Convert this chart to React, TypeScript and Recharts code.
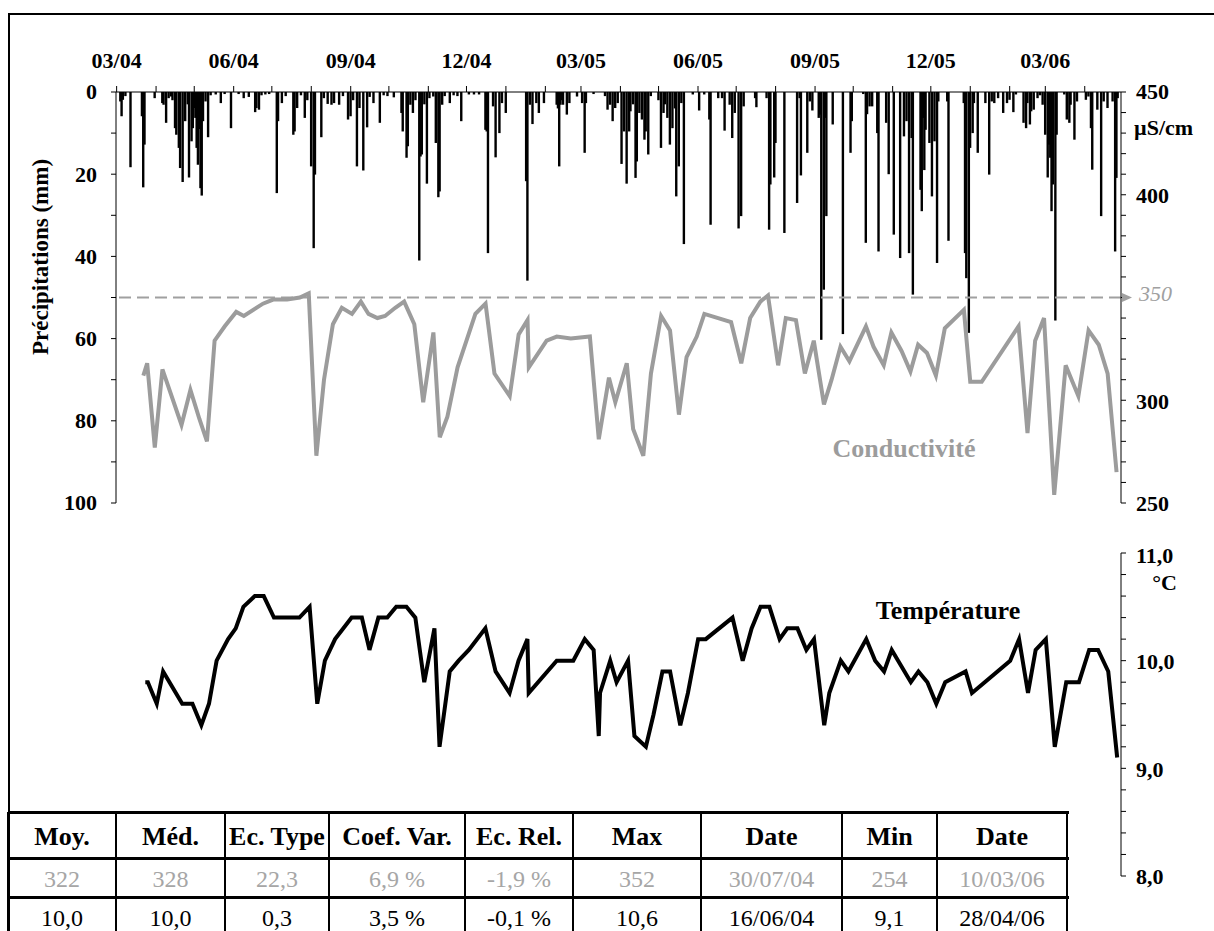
import React from 'react';
import { ComposedChart, Bar, Line, XAxis, YAxis, ReferenceLine } from 'recharts';

// day 0 = 01/03/2004
const NUM_DAYS = 790;

const monthStartDays = [0, 31, 61, 92, 122, 153, 184, 214, 245, 275, 306, 337, 365, 396, 426, 457, 487, 518, 549, 579, 610, 640, 671, 702, 730, 761];
const labelDays = [0, 92, 184, 275, 365, 457, 549, 640, 730];
const labelTexts = ['03/04', '06/04', '09/04', '12/04', '03/05', '06/05', '09/05', '12/05', '03/06'];

const precipTicks = [0, 10, 20, 30, 40, 50, 60, 70, 80, 90, 100];
const condTicks = [250, 260, 270, 280, 290, 300, 310, 320, 330, 340, 350, 360, 370, 380, 390, 400, 410, 420, 430, 440, 450];
const tempTicks = [8, 8.2, 8.4, 8.6, 8.8, 9, 9.2, 9.4, 9.6, 9.8, 10, 10.2, 10.4, 10.6, 10.8, 11];

// [day, mm]
const precipitation: [number, number][] = [
  [3, 2.3], [4, 5.9], [5, 1.9], [7, 1.0], [11, 18.3], [20, 5.9], [21, 23.2], [22, 12.8], [30, 1.5], [36, 2.7], [37, 3.1], [39, 7.5], [41, 1.5], [43, 1.1], [44, 2.0], [46, 8.8], [47, 10.4], [49, 13.6], [50, 18.5], [52, 21.9], [54, 7.1], [56, 3.0], [57, 20.8], [59, 12.0], [60, 8.8], [61, 3.9], [62, 6.3], [63, 13.6], [64, 17.7], [65, 9.0], [66, 23.4], [67, 25.2], [68, 7.1], [70, 2.3], [72, 11.0], [74, 0.8], [78, 0.6], [82, 2.7], [85, 0.5], [90, 8.8], [96, 0.5], [100, 1.5], [104, 1.2], [109, 4.9], [110, 3.9], [112, 4.3], [114, 0.8], [117, 0.6], [120, 0.5], [126, 24.6], [127, 7.1], [130, 2.7], [133, 1.0], [139, 10.4], [140, 9.6], [142, 3.9], [145, 0.8], [148, 6.3], [150, 2.0], [153, 18.1], [155, 38.0],
  [156, 20.1], [161, 11.0], [163, 1.5], [166, 2.9], [169, 3.1], [171, 2.7], [175, 3.1], [178, 1.0], [182, 6.7], [184, 5.9], [186, 2.0], [189, 18.1], [191, 3.9], [194, 19.1], [197, 8.6], [199, 1.2], [202, 2.7], [207, 7.5], [210, 0.8], [213, 1.0], [218, 1.3], [224, 5.1], [225, 9.6], [228, 16.0], [229, 13.2], [231, 3.1], [233, 5.1], [235, 2.0], [238, 41.0], [239, 15.7], [240, 15.2], [242, 3.0], [244, 22.3], [246, 1.5], [249, 1.1], [251, 12.4], [253, 25.6], [254, 24.2], [256, 3.1], [258, 1.0], [262, 2.7], [265, 0.8], [268, 1.0], [271, 7.1], [277, 0.6], [281, 0.6], [285, 0.6], [290, 9.2], [291, 9.6], [292, 39.2], [296, 3.5], [298, 15.9], [301, 10.0], [303, 2.7], [306, 5.1],
  [322, 21.7], [323, 45.9], [325, 3.1], [327, 7.8], [330, 2.7], [332, 5.1], [336, 2.7], [346, 3.1], [347, 4.0], [348, 18.1], [349, 3.1], [350, 2.0], [351, 3.1], [354, 5.5], [356, 2.7], [362, 1.1], [366, 2.7], [368, 14.8], [369, 2.7], [375, 0.5], [384, 1.0], [386, 4.3], [388, 3.1], [390, 7.1], [392, 3.9], [394, 2.7], [397, 17.5], [399, 9.6], [401, 22.3], [403, 9.6], [404, 4.7], [406, 3.0], [408, 20.9], [409, 16.9], [411, 5.1], [413, 6.7], [415, 11.6], [416, 9.6], [418, 15.2], [420, 1.0], [426, 2.0], [428, 13.6], [430, 5.1], [431, 3.0], [433, 6.3], [435, 12.8], [437, 8.8], [439, 4.0], [440, 25.4], [442, 18.1], [444, 2.7], [446, 37.0], [453, 0.6], [458, 4.5], [462, 0.6], [466, 6.7], [467, 32.3], [473, 1.5],
  [476, 1.5], [478, 9.4], [482, 3.1], [484, 11.2], [486, 5.1], [489, 33.2], [491, 30.2], [493, 3.5], [502, 1.5], [503, 3.7], [511, 1.5], [513, 33.5], [514, 22.5], [517, 20.8], [518, 12.4], [525, 34.3], [535, 27.0], [537, 1.5], [538, 20.3], [543, 14.8], [545, 2.3], [547, 4.5], [552, 6.3], [553, 5.5], [554, 60.3], [556, 48.1], [557, 6.3], [558, 30.2], [563, 7.9], [571, 58.9], [577, 14.8], [578, 7.1], [587, 0.5], [589, 36.7], [590, 5.4], [592, 3.5], [594, 3.5], [598, 10.0], [599, 38.8], [605, 7.5], [607, 20.0], [611, 34.7], [616, 40.4], [619, 10.8], [621, 7.1], [623, 39.2], [625, 11.2], [626, 49.3], [632, 23.8], [633, 29.0], [634, 6.3],
  [635, 19.0], [636, 9.2], [639, 12.4], [641, 25.4], [643, 12.0], [645, 41.6], [646, 2.3], [653, 2.3], [654, 36.2], [666, 2.7], [667, 39.2], [668, 45.3], [670, 58.6], [671, 13.6], [673, 10.0], [674, 2.7], [677, 14.8], [683, 2.7], [686, 20.1], [688, 2.3], [690, 2.7], [693, 1.5], [697, 5.1], [700, 2.7], [702, 1.9], [705, 4.9], [707, 0.6], [713, 7.5], [715, 8.8], [716, 2.7], [718, 7.9], [719, 4.7], [721, 4.3], [724, 1.5], [726, 0.8], [728, 3.1], [730, 10.4], [732, 20.8], [733, 12.8], [734, 16.0], [735, 29.0], [736, 22.5], [738, 55.6], [739, 10.4], [745, 0.6], [747, 6.7], [749, 7.5], [750, 3.1], [753, 11.6], [755, 2.3], [762, 1.9], [764, 1.1], [766, 8.8], [767, 18.9], [771, 4.3], [774, 30.2], [776, 2.3], [779, 3.9], [783, 2.3], [785, 38.8], [786, 20.9], [787, 1.5],
];

// [day, µS/cm]
const conductivity: [number, number][] = [
  [21, 312], [24, 318], [30, 277], [36, 315], [51, 288], [58, 305], [65, 291], [71, 280], [77, 329], [85, 336], [94, 343], [100, 341], [115, 347], [123, 349], [134, 349], [144, 350], [151, 352], [157, 273], [163, 310], [170, 337], [177, 345], [185, 342], [192, 348], [198, 342], [205, 340], [211, 341], [219, 345], [226, 348], [234, 337], [241, 299], [249, 333], [254, 282], [260, 292], [268, 316], [275, 329], [282, 342], [290, 347], [297, 313], [309, 302], [316, 332], [323, 339], [324, 316], [338, 329], [346, 331], [357, 330], [372, 331], [379, 281], [387, 311], [392, 299], [401, 318], [406, 286], [414, 273], [420, 313], [428, 341], [435, 334], [442, 293], [448, 321], [456, 331], [462, 342], [483, 338], [491, 318], [498, 340], [506, 348], [512, 351], [520, 317], [526, 340], [534, 339], [541, 313], [548, 329], [556, 298], [562, 310], [569, 326], [576, 319], [589, 336], [595, 326], [603, 317], [609, 333], [617, 324], [624, 314], [630, 327], [637, 323], [644, 312], [651, 335], [666, 344], [671, 309], [680, 309], [709, 336], [716, 284], [722, 329], [729, 340], [737, 254], [746, 317], [756, 302], [764, 334], [772, 327], [779, 313], [786, 265],
];

// [day, °C]
const temperature: [number, number][] = [
  [23, 9.8], [25, 9.8], [32, 9.6], [37, 9.9], [52, 9.6], [60, 9.6], [67, 9.4], [73, 9.6], [79, 10.0], [88, 10.2], [94, 10.3], [100, 10.5], [109, 10.6], [116, 10.6], [124, 10.4], [144, 10.4], [152, 10.5], [158, 9.6], [164, 10.0], [172, 10.2], [185, 10.4], [193, 10.4], [199, 10.1], [206, 10.4], [213, 10.4], [220, 10.5], [228, 10.5], [235, 10.4], [242, 9.8], [250, 10.3], [254, 9.2], [262, 9.9], [269, 10.0], [277, 10.1], [290, 10.3], [298, 9.9], [309, 9.7], [316, 10.0], [323, 10.2], [324, 9.7], [346, 10.0], [359, 10.0], [368, 10.2], [375, 10.1], [379, 9.3], [380, 9.7], [388, 10.0], [393, 9.8], [402, 10.0], [407, 9.3], [416, 9.2], [422, 9.5], [429, 9.9], [435, 9.9], [443, 9.4], [449, 9.7], [457, 10.2], [463, 10.2], [484, 10.4], [492, 10.0], [499, 10.3], [506, 10.5], [513, 10.5], [521, 10.2], [527, 10.3], [535, 10.3], [542, 10.1], [548, 10.2], [556, 9.4], [560, 9.7], [569, 10.0], [575, 9.9], [589, 10.2], [596, 10.0], [603, 9.9], [609, 10.1], [624, 9.8], [630, 9.9], [637, 9.8], [644, 9.6], [651, 9.8], [667, 9.9], [672, 9.7], [702, 10.0], [709, 10.2], [716, 9.7], [722, 10.1], [730, 10.2], [737, 9.2], [746, 9.8], [756, 9.8], [764, 10.1], [771, 10.1], [779, 9.9], [786, 9.1],
];

const statsHeaders = ['Moy.', 'Méd.', 'Ec. Type', 'Coef. Var.', 'Ec. Rel.', 'Max', 'Date', 'Min', 'Date'];
const condStats = ['322', '328', '22,3', '6,9 %', '-1,9 %', '352', '30/07/04', '254', '10/03/06'];
const tempStats = ['10,0', '10,0', '0,3', '3,5 %', '-0,1 %', '10,6', '16/06/04', '9,1', '28/04/06'];

// ---- build table for recharts ----
const pMap = new Map<number, number>(precipitation);
const cMap = new Map<number, number>(conductivity);
const tMap = new Map<number, number>(temperature);
const rows = Array.from({ length: NUM_DAYS }, (_, d) => ({
  day: d,
  p: pMap.has(d) ? pMap.get(d) : null,
  c: cMap.has(d) ? cMap.get(d) : null,
  t: tMap.has(d) ? tMap.get(d) : null,
}));

const FONT = "'Liberation Serif', 'Times New Roman', serif";
const GRAY = '#9c9c9c';

const XTick = (props: any) => {
  const { x, y, payload } = props;
  const idx = labelDays.indexOf(payload.value);
  if (idx < 0) return <g />;
  return (
    <text x={x} y={y - 16} textAnchor="middle" fontFamily={FONT} fontWeight="bold" fontSize={22} fill="#000">
      {labelTexts[idx]}
    </text>
  );
};

const PrecipTick = (props: any) => {
  const { x, y, payload } = props;
  if (payload.value % 20 !== 0) return <g />;
  return (
    <text x={x - 12} y={y} dy="0.34em" textAnchor="end" fontFamily={FONT} fontWeight="bold" fontSize={22} fill="#000">
      {payload.value}
    </text>
  );
};

const CondTick = (props: any) => {
  const { x, y, payload } = props;
  const v = payload.value;
  const ax = x - 7;
  const tx = ax + 15;
  if (v === 350) {
    return (
      <g>
        <polygon points={`${ax + 1},${y - 4.5} ${ax + 11},${y} ${ax + 1},${y + 4.5}`} fill="#a0a0a0" />
        <text x={tx + 3} y={y - 4} dy="0.34em" fontFamily={FONT} fontStyle="italic" fontSize={22} fill="#a0a0a0">350</text>
      </g>
    );
  }
  if (v === 450) {
    return (
      <g>
        <text x={tx} y={y} dy="0.34em" fontFamily={FONT} fontWeight="bold" fontSize={22} fill="#000">450</text>
        <text x={tx - 2} y={y + 36} dy="0.34em" fontFamily={FONT} fontWeight="bold" fontSize={22} fill="#000">µS/cm</text>
      </g>
    );
  }
  if (v === 400 || v === 300 || v === 250) {
    return (
      <text x={tx} y={y + 1} dy="0.34em" fontFamily={FONT} fontWeight="bold" fontSize={22} fill="#000">{v}</text>
    );
  }
  return <g />;
};

const TempTick = (props: any) => {
  const { x, y, payload } = props;
  const v = payload.value;
  const ax = x - 7;
  const tx = ax + 15;
  if (Math.abs(v - Math.round(v)) > 1e-6) return <g />;
  const label = `${Math.round(v)},0`;
  if (Math.round(v) === 11) {
    return (
      <g>
        <text x={tx} y={y + 3} dy="0.34em" fontFamily={FONT} fontWeight="bold" fontSize={22} fill="#000">{label}</text>
        <text x={tx + 41} y={y + 30} dy="0.34em" textAnchor="end" fontFamily={FONT} fontWeight="bold" fontSize={22} fill="#000">°C</text>
      </g>
    );
  }
  return (
    <text x={tx} y={y + 1} dy="0.34em" fontFamily={FONT} fontWeight="bold" fontSize={22} fill="#000">{label}</text>
  );
};

// thin hanging bar, centred on the band that recharts computes
const PrecipBar = (props: any) => {
  const { x, y, width, height } = props;
  if (x == null || y == null || !height) return <g />;
  const top = Math.min(y, y + height);
  const h = Math.abs(height);
  const w = 2.4;
  return <rect x={x + width / 2 - w / 2} y={top} width={w} height={h} fill="#000" />;
};

const colEdges = [8, 116, 225, 329, 465, 573, 701, 842, 937, 1067];
const rowEdges = [812, 858, 897, 936];

const StatsTable = () => {
  const rowsData = [statsHeaders, condStats, tempStats];
  const rowStyles = [
    { fontWeight: 'bold' as const, fontSize: 26, color: '#000' },
    { fontWeight: 'normal' as const, fontSize: 24, color: '#a6a6a6' },
    { fontWeight: 'normal' as const, fontSize: 24, color: '#000' },
  ];
  const els: any[] = [];
  rowsData.forEach((r, ri) => {
    r.forEach((txt, ci) => {
      els.push(
        <div
          key={`c${ri}-${ci}`}
          style={{
            position: 'absolute',
            left: colEdges[ci],
            top: rowEdges[ri] + (ri === 0 ? 2 : 1),
            width: colEdges[ci + 1] - colEdges[ci],
            height: rowEdges[ri + 1] - rowEdges[ri],
            display: 'flex',
            alignItems: 'center',
            justifyContent: 'center',
            fontFamily: FONT,
            lineHeight: 1,
            whiteSpace: 'nowrap',
            ...rowStyles[ri],
          }}
        >
          {txt}
        </div>
      );
    });
  });
  rowEdges.slice(0, 3).forEach((y, i) => {
    els.push(
      <div key={`h${i}`} style={{ position: 'absolute', left: colEdges[0], top: y - 1.5, width: colEdges[colEdges.length - 1] - colEdges[0] + 2, height: 3, background: '#000' }} />
    );
  });
  colEdges.forEach((x, i) => {
    els.push(
      <div key={`v${i}`} style={{ position: 'absolute', left: x - 1, top: rowEdges[0], width: 2, height: 140, background: '#000' }} />
    );
  });
  return <>{els}</>;
};

export default function App() {
  return (
    <div style={{ position: 'absolute', left: 0, top: 0, width: 1214, height: 931, overflow: 'hidden', background: '#fff' }}>
      {/* outer frame */}
      <div style={{ position: 'absolute', left: 8, top: 13, width: 1400, height: 1100, borderTop: '2px solid #000', borderLeft: '2px solid #000' }} />

      {/* precipitation + conductivity */}
      <div style={{ position: 'absolute', left: 0, top: 0 }}>
        <ComposedChart width={1214} height={520} data={rows} margin={{ top: 0, right: 0, bottom: 17, left: 0 }} barCategoryGap={0} barGap={0}>
          <XAxis
            dataKey="day"
            orientation="top"
            height={92}
            ticks={monthStartDays}
            interval={0}
            tickSize={6}
            tickMargin={2}
            axisLine={{ stroke: '#000', strokeWidth: 1 }}
            tickLine={{ stroke: '#000', strokeWidth: 1 }}
            tick={XTick}
          />
          <YAxis
            yAxisId="p"
            orientation="left"
            width={116}
            domain={[0, 100]}
            reversed
            ticks={precipTicks}
            interval={0}
            tickSize={5}
            tickMargin={2}
            axisLine={{ stroke: '#000', strokeWidth: 1 }}
            tickLine={{ stroke: '#000', strokeWidth: 1 }}
            tick={PrecipTick}
          />
          <YAxis
            yAxisId="c"
            orientation="right"
            width={93}
            domain={[250, 450]}
            ticks={condTicks}
            interval={0}
            tickSize={5}
            tickMargin={2}
            axisLine={{ stroke: '#000', strokeWidth: 1 }}
            tickLine={{ stroke: '#000', strokeWidth: 1 }}
            tick={CondTick}
          />
          <Bar dataKey="p" yAxisId="p" fill="#000" shape={PrecipBar} isAnimationActive={false} />
          <ReferenceLine y={350} yAxisId="c" stroke="#a0a0a0" strokeWidth={2} strokeDasharray="12 6" />
          <Line dataKey="c" yAxisId="c" type="linear" stroke={GRAY} strokeWidth={4} dot={false} activeDot={false} connectNulls isAnimationActive={false} />
        </ComposedChart>
      </div>

      {/* temperature */}
      <div style={{ position: 'absolute', left: 0, top: 520 }}>
        <ComposedChart width={1214} height={370} data={rows} margin={{ top: 33, right: 0, bottom: 14, left: 116 }}>
          <XAxis dataKey="day" hide />
          <YAxis
            yAxisId="t"
            orientation="right"
            width={93}
            domain={[8, 11]}
            ticks={tempTicks}
            interval={0}
            tickSize={5}
            tickMargin={2}
            axisLine={{ stroke: '#000', strokeWidth: 1 }}
            tickLine={{ stroke: '#000', strokeWidth: 1 }}
            tick={TempTick}
          />
          <Line dataKey="t" yAxisId="t" type="linear" stroke="#000" strokeWidth={4} dot={false} activeDot={false} connectNulls isAnimationActive={false} />
        </ComposedChart>
      </div>

      {/* annotations */}
      <svg width={1214} height={931} style={{ position: 'absolute', left: 0, top: 0, pointerEvents: 'none' }}>
        <text x={40} y={257} transform="rotate(-90 40 257)" textAnchor="middle" dy="0.34em" fontFamily={FONT} fontWeight="bold" fontSize={23} fill="#000">
          Précipitations (mm)
        </text>
        <text x={904} y={457} textAnchor="middle" fontFamily={FONT} fontWeight="bold" fontSize={26} fill={GRAY}>
          Conductivité
        </text>
        <text x={948} y={619} textAnchor="middle" fontFamily={FONT} fontWeight="bold" fontSize={26} fill="#000">
          Température
        </text>
      </svg>

      <StatsTable />
    </div>
  );
}
